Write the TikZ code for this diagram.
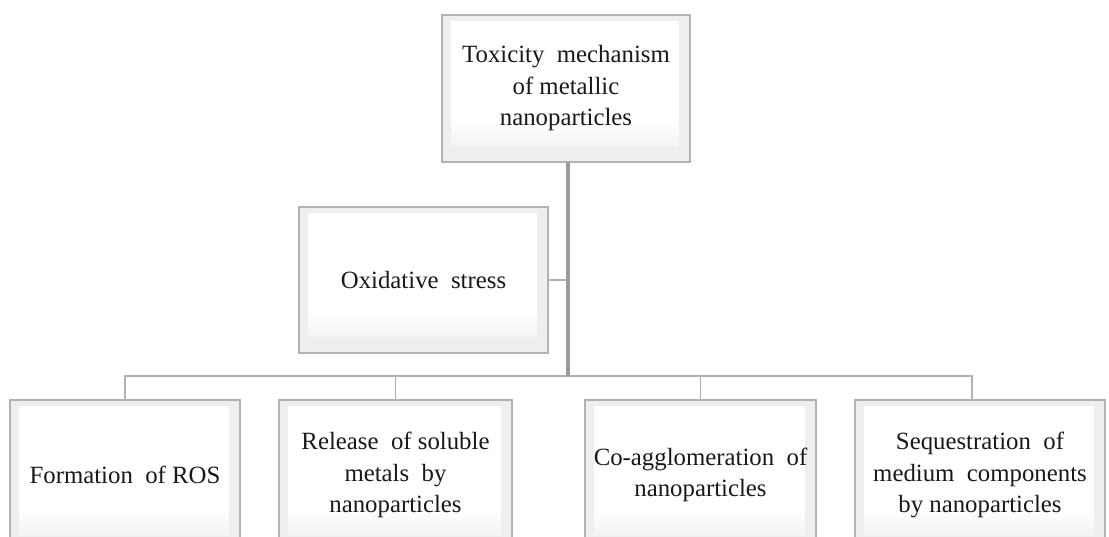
\documentclass[tikz,border=0pt]{standalone}
\usepackage{fontspec}
\setmainfont{Liberation Serif}
\begin{document}
\begin{tikzpicture}[x=1pt,y=-1pt,
  box/.style={draw=gray!60, line width=1.4pt, fill=gray!13, inner sep=0pt, align=center,
    text=black!90, font=\fontsize{24.8}{31.5}\selectfont,
    path picture={
      \fill[white] ([shift={(9pt,-6pt)}]path picture bounding box.north west) rectangle ([shift={(-11pt,15pt)}]path picture bounding box.south east);
      \shade[top color=white, bottom color=gray!10] ([shift={(9pt,40pt)}]path picture bounding box.south west) rectangle ([shift={(-11pt,15pt)}]path picture bounding box.south east);
    }},
  trunk/.style={draw=gray!80, line width=3.4pt},
  conn/.style={draw=gray!60, line width=1.5pt}]
\useasboundingbox (0,0) rectangle (1109,537);

\node[box, minimum width=248pt, minimum height=147pt] (top) at (566,88.5)
  {Toxicity\enspace mechanism\\of metallic\\nanoparticles};
\node[box, minimum width=249pt, minimum height=146pt] (ox) at (423.5,280)
  {Oxidative\enspace stress};

\node[box, minimum width=230pt, minimum height=150pt] (b1) at (125,475)
  {Formation\enspace of ROS};
\node[box, minimum width=233pt, minimum height=150pt] (b2) at (395.5,475)
  {Release\enspace of soluble\\metals\enspace by\\nanoparticles};
\node[box, minimum width=231pt, minimum height=150pt] (b3) at (700.5,475)
  {Co-agglomeration\enspace of\\nanoparticles};
\node[box, minimum width=250pt, minimum height=150pt] (b4) at (980,475)
  {Sequestration\enspace of\\medium\enspace components\\by nanoparticles};

\coordinate (bus) at (568,376);
\coordinate (d4) at (972,400);

\draw[conn] (ox.east) -- (ox.east -| bus);
\draw[conn] (b1.north) -- (b1.north |- bus) -- (d4 |- bus) -- (d4);
\draw[conn] (b2.north) -- (b2.north |- bus);
\draw[conn] (b3.north) -- (b3.north |- bus);
\draw[trunk] (top.south -| bus) -- (bus);
\end{tikzpicture}
\end{document}
